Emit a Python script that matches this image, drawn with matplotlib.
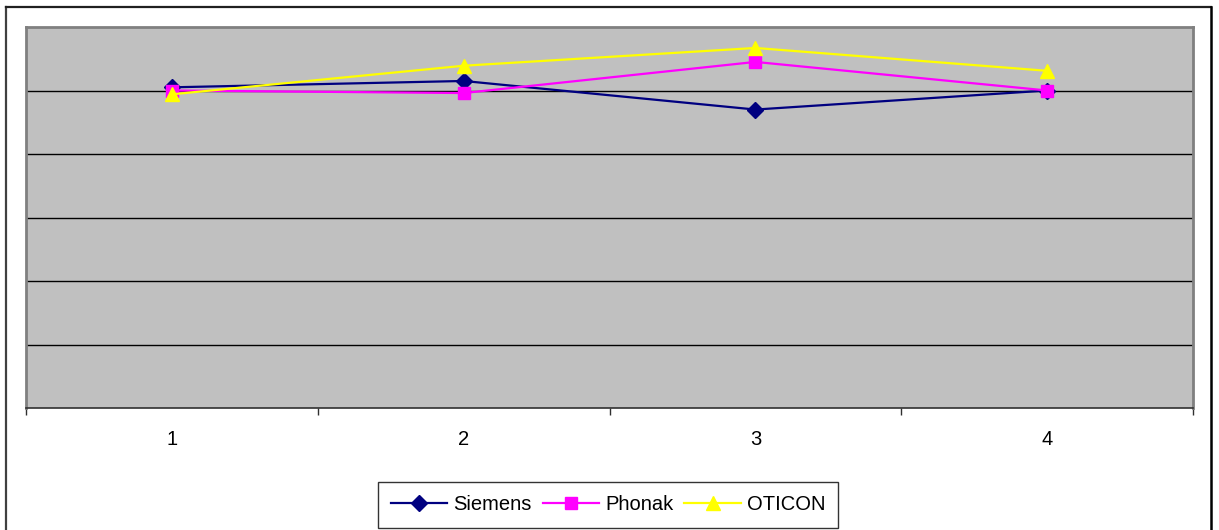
import matplotlib.pyplot as plt

plt.rcParams['font.family'] = ['Liberation Sans', 'DejaVu Sans']

### data ###
categories = ['1', '2', '3', '4']
siemens = [5.05, 5.15, 4.70, 5.00]
phonak = [5.00, 4.96, 5.45, 5.00]
oticon = [4.94, 5.39, 5.67, 5.31]

W, H = 1219, 530
fig = plt.figure(figsize=(W / 100, H / 100), dpi=100)

# outer chart frame (no bottom edge visible)
fig.add_artist(plt.Line2D([6 / W, 6 / W], [0, 1 - 7 / H], color='#404040', lw=1.6))
fig.add_artist(plt.Line2D([6 / W, 1211 / W], [1 - 7 / H, 1 - 7 / H], color='#202020', lw=1.6))
fig.add_artist(plt.Line2D([1211 / W, 1211 / W], [0, 1 - 7 / H], color='#000000', lw=1.8))

ax = fig.add_axes([26 / W, 1 - 408 / H, (1193 - 26) / W, (408 - 27) / H])
ax.set_facecolor('#C0C0C0')

x = list(range(len(categories)))
ax.plot(x, siemens, color='#000080', lw=1.6, marker='D', markersize=8, label='Siemens')
ax.plot(x, phonak, color='#FF00FF', lw=1.6, marker='s', markersize=9, label='Phonak')
ax.plot(x, oticon, color='#FFFF00', lw=1.6, marker='^', markersize=10, label='OTICON')

ax.set_xlim(-0.5, len(categories) - 0.5)
ax.set_ylim(0, 6)
ax.set_yticks(range(1, 6))
ax.yaxis.grid(True, color='black', lw=1)
ax.set_axisbelow(True)
ax.tick_params(axis='y', left=False, labelleft=False)

# category boundaries get the tick marks, labels sit in the middle
ax.set_xticks([i - 0.5 for i in range(len(categories) + 1)])
ax.set_xticklabels([])
ax.set_xticks(x, minor=True)
ax.set_xticklabels(categories, minor=True, fontsize=14.5)
ax.tick_params(axis='x', which='major', length=5, width=1, color='#303030', direction='out')
ax.tick_params(axis='x', which='minor', length=0, pad=16)

for side in ['top', 'left', 'right']:
    ax.spines[side].set_color('#808080')
    ax.spines[side].set_linewidth(2)
ax.spines['bottom'].set_color('#303030')
ax.spines['bottom'].set_linewidth(1.2)

leg = fig.legend(loc='center', bbox_to_anchor=(608 / W, 1 - 505 / H), ncol=3,
                 fontsize=14.5, frameon=True, fancybox=False, edgecolor='black',
                 handlelength=2.8, handletextpad=0.3, columnspacing=0.55,
                 borderpad=0.65, borderaxespad=0)
leg.get_frame().set_linewidth(1)

fig.savefig('out.png', dpi=100)
